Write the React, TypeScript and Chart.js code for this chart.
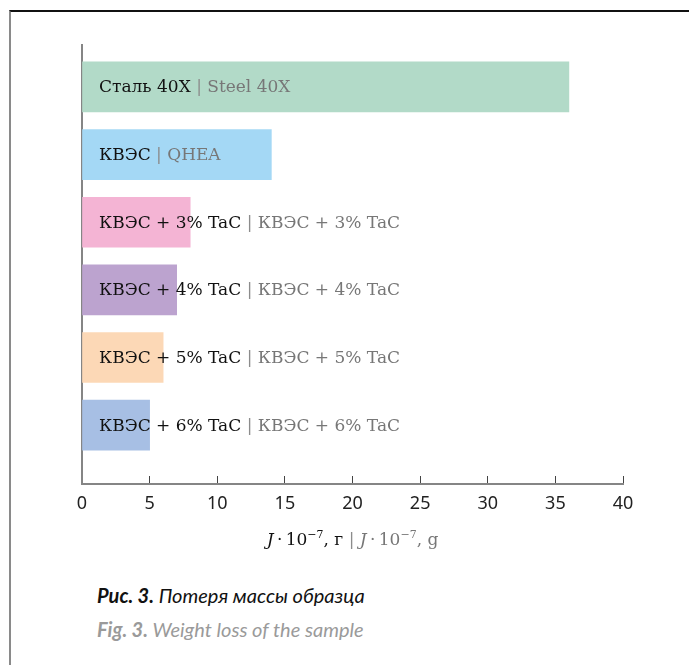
import React, { useEffect, useRef } from 'react';
import { Chart, registerables } from 'chart.js';

Chart.register(...registerables);

// ---- data ----
const categoriesRu = ['Сталь 40Х', 'КВЭС', 'КВЭС + 3% TaC', 'КВЭС + 4% TaC', 'КВЭС + 5% TaC', 'КВЭС + 6% TaC'];
const categoriesEn = ['Steel 40X', 'QHEA', 'КВЭС + 3% TaC', 'КВЭС + 4% TaC', 'КВЭС + 5% TaC', 'КВЭС + 6% TaC'];
const weightLoss = [36, 14, 8, 7, 6, 5];
const barColors = ['#b2dac8', '#a4d8f5', '#f4b4d4', '#bca3cf', '#fcd8b6', '#a7bfe4'];
const xMin = 0;
const xMax = 40;
const xStep = 5;
const axisTitleRu = { sym: 'J', mult: '\u2009·\u200910', exp: '−7', unit: ', г' };
const axisTitleEn = { sym: 'J', mult: '\u2009·\u200910', exp: '−7', unit: ', g' };
const captionRu = { num: 'Рис. 3.', text: 'Потеря массы образца' };
const captionEn = { num: 'Fig. 3.', text: 'Weight loss of the sample' };

const SERIF = '"DejaVu Serif"';
const BLACK = '#111111';
const GRAY = '#777777';
const SEP = '#8c8c8c';

const barLabelPlugin = {
  id: 'barLabels',
  afterDatasetsDraw(chart: any) {
    const { ctx, chartArea } = chart;
    const meta = chart.getDatasetMeta(0);
    ctx.save();
    ctx.font = `17px ${SERIF}`;
    ctx.textBaseline = 'middle';
    ctx.textAlign = 'left';
    meta.data.forEach((bar: any, i: number) => {
      let x = chartArea.left + 17;
      const y = bar.y + 1;
      const parts: [string, string][] = [
        [categoriesRu[i], BLACK],
        [' | ', SEP],
        [categoriesEn[i], GRAY],
      ];
      parts.forEach(([t, c]) => {
        ctx.fillStyle = c;
        ctx.fillText(t, x, y);
        x += ctx.measureText(t).width;
      });
    });
    ctx.restore();
  },
};

const axisTitlePlugin = {
  id: 'axisTitle',
  afterDraw(chart: any) {
    const { ctx } = chart;
    const xs = chart.scales.x;
    const cx = (xs.left + xs.right) / 2;
    const baseY = xs.bottom + 31;
    const main = `17px ${SERIF}`;
    const ital = `italic 17px ${SERIF}`;
    const sup = `11px ${SERIF}`;
    const build = (o: typeof axisTitleRu, color: string) => [
      { t: o.sym, f: ital, c: color, dy: 0 },
      { t: o.mult, f: main, c: color, dy: 0 },
      { t: o.exp, f: sup, c: color, dy: -7 },
      { t: o.unit, f: main, c: color, dy: 0 },
    ];
    const pieces = [
      ...build(axisTitleRu, BLACK),
      { t: ' | ', f: main, c: SEP, dy: 0 },
      ...build(axisTitleEn, GRAY),
    ];
    ctx.save();
    ctx.textBaseline = 'alphabetic';
    ctx.textAlign = 'left';
    let total = 0;
    const widths = pieces.map((p) => {
      ctx.font = p.f;
      const w = ctx.measureText(p.t).width;
      total += w;
      return w;
    });
    let x = cx - total / 2;
    pieces.forEach((p, i) => {
      ctx.font = p.f;
      ctx.fillStyle = p.c;
      ctx.fillText(p.t, x, baseY + p.dy);
      x += widths[i];
    });
    ctx.restore();
  },
};

export default function App() {
  const ref = useRef<HTMLCanvasElement>(null);

  useEffect(() => {
    const chart = new Chart(ref.current as HTMLCanvasElement, {
      type: 'bar',
      data: {
        datasets: [
          {
            data: weightLoss.map((v, i) => ({ x: v, y: i })) as any,
            backgroundColor: barColors,
            borderWidth: 0,
            barThickness: 50,
          },
        ],
      },
      options: {
        indexAxis: 'y',
        responsive: false,
        animation: false,
        layout: { padding: { left: 82, top: 45, right: 66, bottom: 56 } },
        plugins: {
          legend: { display: false },
          tooltip: { enabled: false },
          title: { display: false },
        },
        scales: {
          x: {
            type: 'linear',
            position: 'bottom',
            offset: false,
            min: xMin,
            max: xMax,
            ticks: {
              stepSize: xStep,
              color: '#222222',
              font: { family: '"Noto Sans"', size: 18 },
              padding: 17,
            },
            grid: {
              display: true,
              offset: false,
              drawOnChartArea: false,
              drawTicks: true,
              tickLength: -8,
              color: '#444444',
              lineWidth: 1,
            },
            border: { display: true, color: '#858585', width: 2 },
            afterFit: (s: any) => {
              s.height = 30;
            },
          },
          y: {
            type: 'linear',
            offset: false,
            min: -0.62,
            max: 5.87,
            reverse: true,
            ticks: { display: false },
            grid: { display: false, offset: false },
            border: { display: true, color: '#858585', width: 2 },
            afterFit: (s: any) => {
              s.width = 0;
            },
          },
        },
      } as any,
      plugins: [barLabelPlugin, axisTitlePlugin],
    });
    return () => chart.destroy();
  }, []);

  const capStyle: React.CSSProperties = {
    position: 'absolute',
    left: 97,
    fontFamily: 'Lato',
    fontStyle: 'italic',
    fontSize: 20,
    lineHeight: '26px',
    whiteSpace: 'nowrap',
  };

  return (
    <div style={{ position: 'absolute', left: 0, top: 0, width: 689, height: 665, background: '#ffffff', overflow: 'hidden' }}>
      <div
        style={{
          position: 'absolute',
          left: 9,
          top: 10,
          width: 680,
          height: 655,
          borderTop: '2px solid #111111',
          borderLeft: '2px solid #8a8a8a',
          boxSizing: 'border-box',
        }}
      />
      <canvas ref={ref} width={689} height={570} style={{ position: 'absolute', left: 0, top: 0, width: 689, height: 570 }} />
      <div style={{ ...capStyle, top: 582, color: '#111111' }}>
        <b>{captionRu.num}</b> {captionRu.text}
      </div>
      <div style={{ ...capStyle, top: 616, color: '#9a9a9a' }}>
        <b>{captionEn.num}</b> {captionEn.text}
      </div>
    </div>
  );
}
